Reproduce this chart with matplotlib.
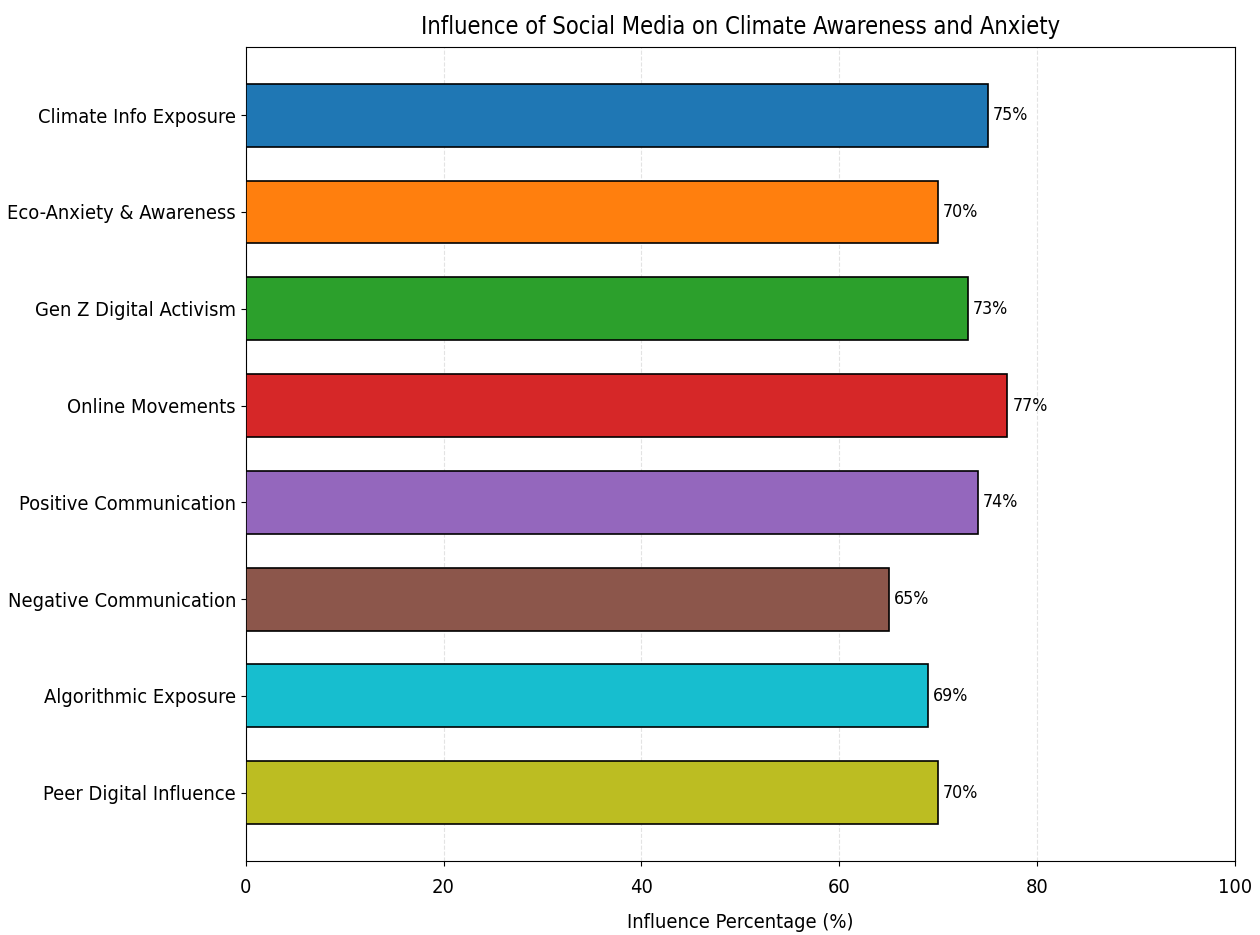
import matplotlib
matplotlib.use("Agg")
import matplotlib.pyplot as plt

categories = [
    "Climate Info Exposure",
    "Eco-Anxiety & Awareness",
    "Gen Z Digital Activism",
    "Online Movements",
    "Positive Communication",
    "Negative Communication",
    "Algorithmic Exposure",
    "Peer Digital Influence",
]
values = [75, 70, 73, 77, 74, 65, 69, 70]
bar_colors = [
    "#1f77b4", "#ff7f0e", "#2ca02c", "#d62728",
    "#9467bd", "#8c564b", "#17becf", "#bcbd22",
]
x_ticks = [0, 20, 40, 60, 80, 100]

plt.rcParams["font.family"] = ["DejaVu Sans"]
plt.rcParams["font.stretch"] = "condensed"

fig, ax = plt.subplots(figsize=(12.6, 9.35), dpi=100)
fig.subplots_adjust(left=0.195, right=0.98, top=0.950, bottom=0.079)

bars = ax.barh(categories, values, color=bar_colors, edgecolor="black",
               linewidth=1.2, height=0.65, zorder=3)
ax.invert_yaxis()

for bar, v in zip(bars, values):
    ax.text(bar.get_width() + 0.5, bar.get_y() + bar.get_height() / 2,
            f"{v}%", va="center", ha="left", fontsize=12.8,
            fontstretch="condensed")

ax.set_xlim(0, 100)
ax.set_xticks(x_ticks)
ax.grid(axis="x", linestyle="--", alpha=0.35, zorder=0)
ax.tick_params(axis="both", labelsize=14.4)
ax.tick_params(axis="x", pad=9)
for lab in ax.get_xticklabels() + ax.get_yticklabels():
    lab.set_fontstretch("condensed")

ax.set_xlabel("Influence Percentage (%)", fontsize=14.4,
              fontstretch="condensed", labelpad=11)
ax.set_title("Influence of Social Media on Climate Awareness and Anxiety",
             fontsize=17, fontstretch="condensed", pad=9)

fig.savefig("out.png", dpi=100)
